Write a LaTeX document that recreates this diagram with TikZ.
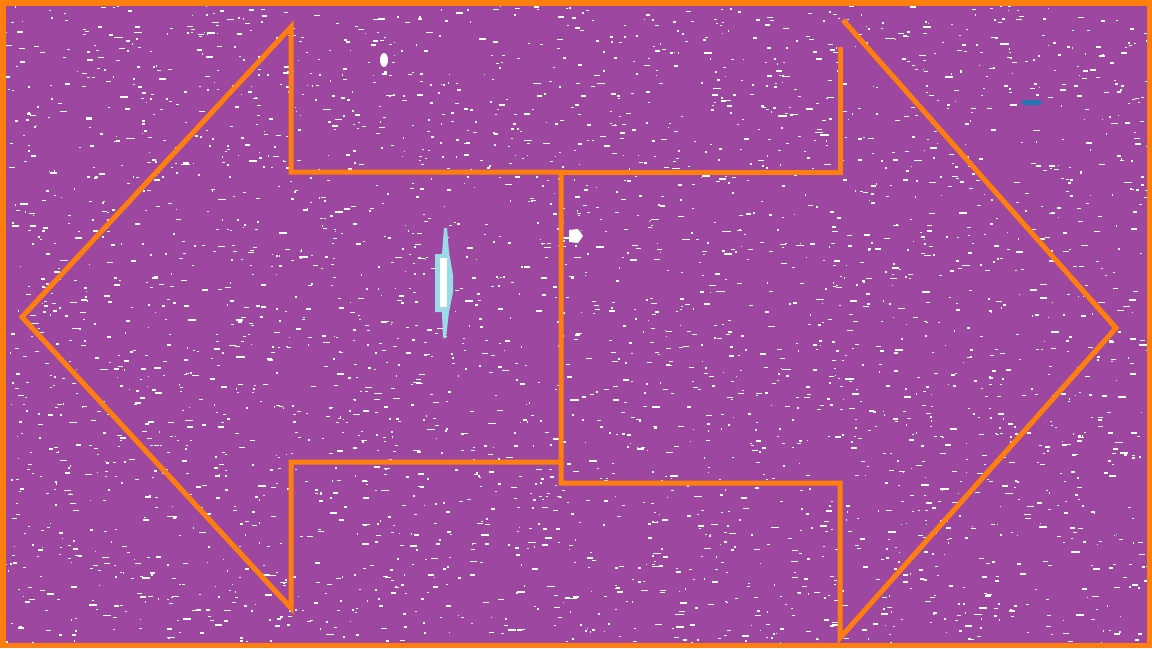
\documentclass[tikz,border=0pt]{standalone}
\usepackage{tikz}
\definecolor{plum}{HTML}{9D47A1}
\definecolor{edge}{HTML}{FF7F0E}
\definecolor{sky}{HTML}{9ADBE8}
\definecolor{navy}{HTML}{1F77B4}

\begin{document}
\begin{tikzpicture}[x=0.01cm,y=-0.01cm]
  \useasboundingbox (0,0) rectangle (1152,648);
  \fill[plum] (0,0) rectangle (1152,648);
  % speckle
  \pgfmathsetseed{11}
  \foreach \i in {1,...,3400}{
    \pgfmathsetmacro{\px}{4+rnd*1144}
    \pgfmathsetmacro{\py}{4+rnd*640}
    \pgfmathsetmacro{\pw}{1.2+rnd*rnd*8}
    \fill[white] (\px,\py) rectangle ++(\pw,1.4);
  }
  \draw[edge,line width=5.5*0.01cm] (2.75,2.75) rectangle (1149.25,645.25);
  % left arrow
  \draw[edge,line width=5*0.01cm,line join=miter]
    (291,608) -- (22,317) -- (291,27) -- (291,172) -- (561,172)
    -- (561,462) -- (291,462) -- cycle;
  % right arrow
  \draw[edge,line width=5*0.01cm]
    (561,172) -- (840,172) -- (840,47);
  \draw[edge,line width=5*0.01cm,line join=miter]
    (843,20) -- (1116,328) -- (840,638) -- (840,483) -- (561,483) -- (561,462);
  % marks
  \fill[sky] (444,228) -- (447,228) -- (449,252) -- (453,275) -- (453,292) -- (449,312)
    -- (446,338) -- (443,338) -- (442,312) -- (435,312) -- (435,254) -- (442,254) -- cycle;
  \fill[white] (440,258) rectangle (447,307);
  \fill[white] (569,230) -- (578,229) -- (583,236) -- (578,243) -- (569,242) -- cycle;
  \fill[white] (384,60) ellipse (4 and 7);
  \fill[navy,rounded corners=1pt] (1021,100) rectangle (1042,105);
\end{tikzpicture}
\end{document}
